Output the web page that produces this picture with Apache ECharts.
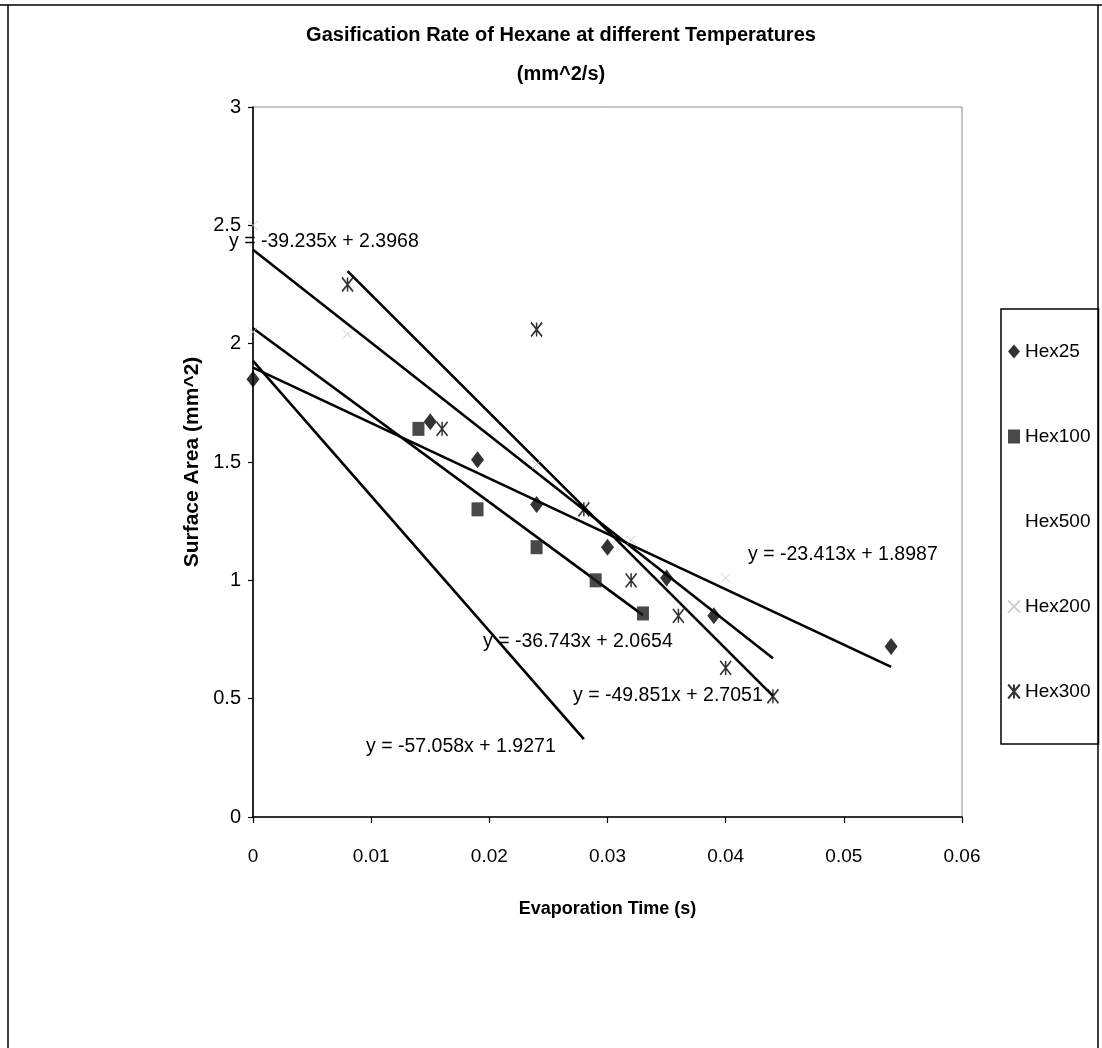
<!DOCTYPE html>
<html>
<head>
<meta charset="utf-8">
<script src="https://cdn.jsdelivr.net/npm/echarts@6/dist/echarts.min.js"></script>
<style>
html,body{margin:0;padding:0;background:#fff;}
#chart{width:1102px;height:1048px;}
</style>
</head>
<body>
<div id="chart"></div>
<script>
// ---------- data ----------
const seriesNames = ['Hex25', 'Hex100', 'Hex500', 'Hex200', 'Hex300'];

const hex25X = [0, 0.015, 0.019, 0.024, 0.030, 0.035, 0.039, 0.054];
const hex25Y = [1.85, 1.67, 1.51, 1.32, 1.14, 1.01, 0.85, 0.72];

const hex100X = [0.014, 0.019, 0.024, 0.029, 0.033];
const hex100Y = [1.64, 1.30, 1.14, 1.00, 0.86];

const hex500X = [];
const hex500Y = [];

const hex200X = [0, 0, 0.008, 0.024, 0.032, 0.040];
const hex200Y = [2.50, 2.05, 2.04, 1.49, 1.17, 1.01];

const hex300X = [0.008, 0.016, 0.024, 0.028, 0.032, 0.036, 0.040, 0.044];
const hex300Y = [2.25, 1.64, 2.06, 1.30, 1.00, 0.85, 0.63, 0.51];

// linear trendlines (same order as seriesNames)
const trendSlope     = [-23.413, -36.743, -57.058, -39.235, -49.851];
const trendIntercept = [1.8987, 2.0654, 1.9271, 2.3968, 2.7051];
const trendFrom      = [0, 0, 0, 0, 0.008];
const trendTo        = [0.054, 0.033, 0.028, 0.044, 0.044];

const xTickLabels = ['0', '0.01', '0.02', '0.03', '0.04', '0.05', '0.06'];
const yTickLabels = ['0', '0.5', '1', '1.5', '2', '2.5', '3'];

// ---------- layout / style ----------
const FONT = '"Liberation Sans", Arial, Helvetica, sans-serif';
const eqLayout = [          // left x, middle y of each equation text (pixels)
  [748, 556],   // Hex25
  [483, 643],   // Hex100
  [366, 748],   // Hex500
  [229, 243],   // Hex200
  [573, 697]    // Hex300
];

const pairs = (xs, ys) => xs.map((x, i) => [x, ys[i]]);
const allX = [hex25X, hex100X, hex500X, hex200X, hex300X];
const allY = [hex25Y, hex100Y, hex500Y, hex200Y, hex300Y];

const starPath = 'path://M0,0L10,12M10,0L0,12M5,0L5,12';
const crossPath = 'path://M0,0L10,10M10,0L0,10';

const markerStyles = [
  { symbol: 'diamond', symbolSize: [13, 17], itemStyle: { color: '#000' } },
  { symbol: 'rect', symbolSize: [12, 14], itemStyle: { color: '#1c1c1c' } },
  { symbol: 'rect', symbolSize: 10, itemStyle: { color: 'rgba(255,255,255,0)' } },
  { symbol: crossPath, symbolSize: 9, itemStyle: { color: 'rgba(0,0,0,0)', borderColor: '#c4c4c4', borderWidth: 1 } },
  { symbol: starPath, symbolSize: [11, 14], itemStyle: { color: 'rgba(0,0,0,0)', borderColor: '#000', borderWidth: 1.7 } }
];

const scatterSeries = seriesNames.map((name, i) => Object.assign({
  name: name,
  type: 'scatter',
  clip: false,
  z: 3,
  data: pairs(allX[i], allY[i])
}, markerStyles[i]));

const trendSeries = seriesNames.map((name, i) => ({
  name: name + ' trend',
  type: 'line',
  z: 2,
  silent: true,
  showSymbol: false,
  animation: false,
  lineStyle: { color: '#000', width: 2.6 },
  data: [
    [trendFrom[i], trendSlope[i] * trendFrom[i] + trendIntercept[i]],
    [trendTo[i], trendSlope[i] * trendTo[i] + trendIntercept[i]]
  ]
}));

const eqTexts = seriesNames.map((name, i) => ({
  type: 'text',
  x: eqLayout[i][0],
  y: eqLayout[i][1] - 11,
  z: 10,
  style: {
    text: 'y = ' + trendSlope[i] + 'x + ' + trendIntercept[i],
    fill: '#000',
    font: '19.5px ' + FONT
  }
}));

const chart = echarts.init(document.getElementById('chart'), null, { renderer: 'canvas' });
chart.setOption({
  animation: false,
  backgroundColor: '#fff',
  title: {
    text: 'Gasification Rate of Hexane at different Temperatures\n(mm^2/s)',
    left: 556,
    top: 11,
    textAlign: 'center',
    textStyle: { fontFamily: FONT, fontSize: 20, fontWeight: 'bold', color: '#000', lineHeight: 39 }
  },
  grid: {
    left: 253, right: 140, top: 107, bottom: 231,
    show: true, borderColor: '#8c8c8c', borderWidth: 1, backgroundColor: 'transparent'
  },
  legend: {
    orient: 'vertical',
    left: 1001,
    top: 309,
    data: seriesNames,
    itemWidth: 12,
    itemHeight: 14,
    itemGap: 66,
    padding: [33, 8, 43, 6],
    borderColor: '#000',
    borderWidth: 1.5,
    selectedMode: false,
    textStyle: { fontFamily: FONT, fontSize: 19, color: '#000' }
  },
  xAxis: {
    type: 'value',
    min: 0, max: 0.06, interval: 0.01,
    name: 'Evaporation Time (s)',
    nameLocation: 'middle',
    nameGap: 83,
    nameTextStyle: { fontFamily: FONT, fontSize: 18, fontWeight: 'bold', color: '#000' },
    axisLine: { onZero: false, lineStyle: { color: '#000', width: 1.6 } },
    axisTick: { show: true, inside: false, length: 6, lineStyle: { color: '#000', width: 1.2 } },
    axisLabel: {
      margin: 30, fontFamily: FONT, fontSize: 19, color: '#000',
      formatter: (v) => xTickLabels[Math.round(v / 0.01)]
    },
    splitLine: { show: false }
  },
  yAxis: {
    type: 'value',
    min: 0, max: 3, interval: 0.5,
    name: 'Surface Area (mm^2)',
    nameLocation: 'middle',
    nameGap: 50,
    nameRotate: 90,
    nameTextStyle: { fontFamily: FONT, fontSize: 21, fontWeight: 'bold', color: '#000' },
    axisLine: { onZero: false, lineStyle: { color: '#000', width: 1.6 } },
    axisTick: { show: true, inside: false, length: 5, lineStyle: { color: '#000', width: 1.2 } },
    axisLabel: {
      margin: 12, fontFamily: FONT, fontSize: 20, color: '#000',
      formatter: (v) => yTickLabels[Math.round(v / 0.5)]
    },
    splitLine: { show: false }
  },
  graphic: [
    { type: 'line', z: 20, shape: { x1: 0, y1: 5, x2: 1102, y2: 5 }, style: { stroke: '#000', lineWidth: 1.5 } },
    { type: 'line', z: 20, shape: { x1: 8, y1: 5, x2: 8, y2: 1048 }, style: { stroke: '#000', lineWidth: 1.5 } },
    { type: 'line', z: 20, shape: { x1: 1098, y1: 5, x2: 1098, y2: 1048 }, style: { stroke: '#000', lineWidth: 1.5 } }
  ].concat(eqTexts),
  series: trendSeries.concat(scatterSeries)
});
</script>
</body>
</html>
